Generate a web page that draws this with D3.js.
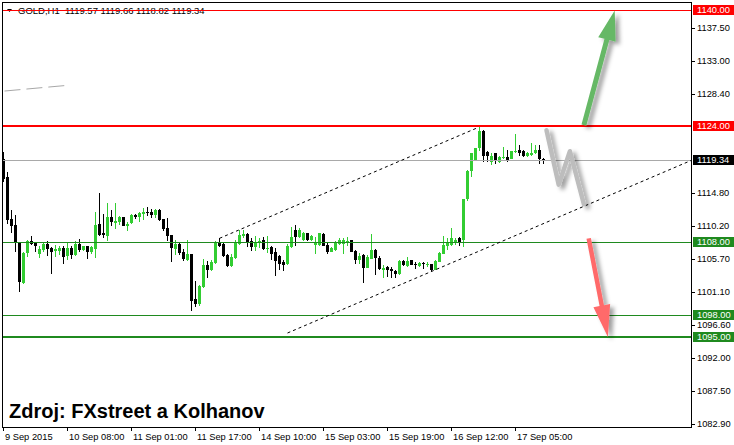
<!DOCTYPE html>
<html><head><meta charset="utf-8">
<script src="https://cdn.jsdelivr.net/npm/d3@7"></script>
<style>
html,body{margin:0;padding:0;background:#fff;}
svg{display:block;font-family:"Liberation Sans",Arial,sans-serif;}
</style></head><body>
<svg id="chart" width="734" height="445"></svg>
<script>
// ---------------- DATA ----------------
const symbol = "GOLD,H1";
const opens = [1119.6,1117.1,1111.2,1110.4,1108.0,1102.5,1106.6,1108.3,1108.0,1106.5,
1107.0,1107.8,1107.2,1106.8,1106.8,1107.3,1106.1,1107.3,1106.3,1107.8,
1107.0,1107.5,1106.7,1107.1,1110.6,1109.3,1108.9,1111.5,1110.7,1110.8,
1111.5,1110.3,1110.7,1111.8,1111.5,1112.0,1112.2,1112.2,1111.8,1112.5,
1111.2,1110.0,1109.0,1107.1,1107.8,1106.7,1105.6,1106.4,1100.2,1099.5,
1101.9,1104.9,1104.2,1105.2,1108.0,1107.8,1106.3,1104.8,1105.9,1107.8,
1108.9,1109.2,1108.3,1107.4,1107.9,1108.4,1107.1,1107.4,1106.7,1106.1,
1105.4,1105.0,1107.4,1109.7,1108.8,1108.4,1109.3,1108.4,1107.7,1107.7,
1109.2,1107.7,1106.7,1107.0,1107.8,1107.8,1107.9,1108.4,1106.9,1105.6,
1106.3,1104.5,1105.8,1107.0,1105.9,1104.2,1104.7,1104.4,1104.1,1103.7,
1105.5,1104.8,1105.6,1105.1,1104.8,1105.2,1104.9,1105.0,1104.3,1105.4,
1106.5,1107.5,1107.7,1107.9,1108.7,1108.4,1114.0,1117.9,1119.4,1121.0,
1123.4,1120.5,1119.1,1120.3,1119.1,1119.7,1119.8,1119.6,1120.5,1120.8,
1120.7,1120.0,1120.1,1120.3,1120.8,1119.57];
const highs = [1120.5,1117.7,1112.5,1111.8,1108.1,1106.7,1108.4,1108.9,1108.1,1107.5,
1108.0,1108.3,1107.4,1107.7,1107.5,1107.5,1108.0,1107.5,1108.3,1108.5,
1107.6,1107.6,1107.5,1112.2,1114.9,1111.9,1113.5,1112.5,1113.4,1111.7,
1111.6,1110.8,1111.9,1112.0,1112.2,1112.8,1112.9,1112.6,1112.7,1112.6,
1111.3,1111.4,1109.0,1108.4,1108.1,1107.1,1108.4,1106.5,1102.7,1102.1,
1105.7,1105.5,1105.6,1108.2,1108.6,1107.9,1106.5,1106.5,1108.4,1109.7,
1109.7,1109.4,1108.6,1108.9,1108.7,1108.8,1108.9,1107.5,1107.2,1106.3,
1105.6,1107.8,1110.1,1110.4,1110.0,1109.5,1109.4,1109.0,1108.8,1109.4,
1109.4,1108.1,1107.4,1108.2,1108.6,1108.6,1108.8,1108.4,1107.0,1106.6,
1106.4,1106.3,1109.2,1107.1,1106.1,1104.9,1104.8,1104.7,1104.3,1105.6,
1105.6,1106.0,1105.6,1105.4,1105.3,1105.4,1105.4,1105.1,1105.6,1106.7,
1108.9,1108.6,1110.0,1108.6,1108.8,1114.0,1118.0,1120.3,1121.1,1124.0,
1123.5,1120.6,1120.3,1120.4,1119.9,1121.2,1120.8,1120.6,1123.0,1121.4,
1120.8,1120.5,1121.7,1121.4,1121.4,1119.66];
const lows = [1116.4,1110.6,1109.3,1106.7,1101.2,1102.3,1106.0,1107.7,1106.7,1105.9,
1106.7,1106.1,1103.7,1106.0,1106.3,1105.0,1105.6,1105.8,1106.1,1106.7,
1106.9,1105.8,1106.5,1105.9,1108.9,1108.7,1108.3,1110.3,1109.9,1110.4,
1110.3,1109.6,1110.6,1111.2,1110.8,1111.1,1111.7,1111.4,1111.4,1111.0,
1109.6,1108.3,1105.4,1106.3,1106.3,1105.5,1105.5,1098.6,1099.1,1099.3,
1101.8,1103.1,1104.1,1105.1,1107.4,1106.0,1104.7,1104.6,1105.8,1107.7,
1108.7,1107.4,1106.9,1106.9,1107.3,1107.0,1106.6,1105.6,1103.4,1104.2,
1104.1,1104.9,1107.2,1107.6,1108.6,1108.3,1108.3,1108.3,1106.5,1107.5,
1107.5,1106.4,1106.7,1106.8,1107.7,1106.5,1107.5,1106.7,1105.0,1105.0,
1102.5,1104.5,1105.8,1103.5,1104.2,1103.1,1103.3,1103.1,1103.2,1103.5,
1104.8,1104.7,1104.9,1104.4,1104.7,1104.4,1104.7,1104.1,1104.3,1105.3,
1106.4,1107.0,1107.5,1107.7,1107.5,1107.4,1113.8,1117.1,1119.3,1120.7,
1119.1,1119.1,1118.7,1118.9,1119.0,1119.5,1119.1,1119.5,1120.3,1120.0,
1119.8,1119.8,1120.0,1120.2,1118.8,1118.82];
const closes = [1116.8,1111.1,1110.3,1108.1,1102.6,1106.6,1108.3,1107.8,1107.5,1107.1,
1107.8,1107.1,1106.7,1107.1,1107.3,1106.0,1107.3,1106.3,1107.8,1107.0,
1107.5,1106.7,1107.4,1110.5,1109.1,1109.0,1111.5,1110.8,1111.0,1111.5,
1110.3,1110.6,1111.8,1111.5,1112.1,1112.2,1112.1,1111.8,1112.5,1111.1,
1109.9,1108.9,1107.2,1107.8,1106.6,1105.7,1106.4,1100.0,1099.6,1102.0,
1104.9,1104.2,1105.4,1108.1,1107.5,1106.1,1104.8,1106.0,1108.1,1109.0,
1109.2,1108.1,1107.4,1108.1,1108.3,1107.1,1107.3,1106.5,1105.5,1105.0,
1104.9,1107.6,1108.8,1108.8,1109.8,1109.3,1108.4,1108.9,1108.1,1109.3,
1107.6,1106.7,1107.2,1108.1,1108.4,1108.4,1108.3,1106.7,1105.6,1106.1,
1104.5,1106.0,1107.0,1105.9,1104.4,1104.5,1104.2,1104.1,1103.7,1105.5,
1104.9,1105.5,1104.9,1105.0,1105.2,1105.0,1105.1,1104.2,1105.5,1106.6,
1107.7,1107.9,1108.6,1108.4,1108.1,1114.0,1117.9,1120.3,1121.0,1123.4,
1120.0,1120.0,1119.9,1119.4,1119.8,1119.8,1119.4,1120.6,1120.7,1120.3,
1119.9,1120.3,1120.4,1120.8,1119.6,1119.34];

const timeTickIdx = [0,16,32,48,64,80,96,112,128];
const timeTickLabels = ["9 Sep 2015","10 Sep 08:00","11 Sep 01:00","11 Sep 17:00","14 Sep 10:00","15 Sep 03:00","15 Sep 19:00","16 Sep 12:00","17 Sep 05:00"];
const priceTicks = [1137.50,1133.00,1128.40,1114.80,1110.20,1105.70,1101.10,1096.60,1092.00,1087.50,1082.90];
const redLevels = [1140, 1124];
const redLevelWidths = [1, 2];
const greenLevels = [1108, 1098, 1095];
const greenLevelWidths = [1, 1, 2];
const bidPrice = 1119.34;
// trend objects as [barIndex, price]
const channelUpper = [[54, 1108.6], [118.75, 1123.9]];
const channelLower = [[71, 1095.55], [172.2, 1119.4]];
const oldTrend = [[0.25, 1128.9], [16.3, 1129.7]];
const upArrow = [[145.1, 1124.2], [152.8, 1140.0]];
const downArrow = [[146.3, 1108.6], [151.1, 1095.0]];
const zigzag = [[135.75, 1123.5], [138.8, 1116.0], [141.6, 1120.6], [145.1, 1113.3]];
const sourceText = "Zdroj: FXstreet a Kolhanov";

// ---------------- DRAW ----------------
const svg = d3.select("#chart");
const x = d3.scaleLinear().domain([0, 135]).range([3.5, 543.5]);
const y = d3.scaleLinear().domain([1095, 1140]).range([337, 10.5]);
const s1 = v => Math.floor(v) + 0.5;
const GREEN = "#1f8a1f", RED = "#ff0000", BULL = "#32cd32";

const defs = svg.append("defs");
defs.append("clipPath").attr("id","plotclip").append("rect")
  .attr("x",3).attr("y",3).attr("width",688).attr("height",424);
const f = defs.append("filter").attr("id","sh").attr("x","-50%").attr("y","-50%").attr("width","200%").attr("height","200%");
f.append("feGaussianBlur").attr("in","SourceAlpha").attr("stdDeviation",2.2).attr("result","bl");
f.append("feOffset").attr("in","bl").attr("dx",4).attr("dy",3).attr("result","of");
f.append("feFlood").attr("flood-color","#000").attr("flood-opacity",0.38).attr("result","fl");
f.append("feComposite").attr("in","fl").attr("in2","of").attr("operator","in").attr("result","shd");
const fm = f.append("feMerge");
fm.append("feMergeNode").attr("in","shd");
fm.append("feMergeNode").attr("in","SourceGraphic");

svg.append("rect").attr("width",734).attr("height",445).attr("fill","#fff");

const plot = svg.append("g").attr("clip-path","url(#plotclip)");

// title (under level lines)
const last = opens.length - 1;
plot.append("path").attr("d","M7,9 L12,9 L9.5,12 Z").attr("fill","#000");
plot.append("text").attr("x",18).attr("y",14).attr("font-size","9.5px").attr("fill","#000")
  .attr("xml:space","preserve")
  .text(`${symbol}  ${opens[last].toFixed(2)} ${highs[last].toFixed(2)} ${lows[last].toFixed(2)} ${closes[last].toFixed(2)}`);

// candles
const bars = d3.range(opens.length);
const cg = plot.append("g").attr("shape-rendering","crispEdges");
bars.forEach(i => {
  const o = opens[i], c = closes[i], h = highs[i], l = lows[i];
  const col = c > o ? BULL : "#000";
  const cx = Math.floor(x(i));
  const yh = Math.round(y(h)), yl = Math.round(y(l));
  cg.append("rect").attr("x",cx).attr("y",yh).attr("width",1).attr("height",Math.max(1,yl-yh)).attr("fill",col);
  const yt = Math.round(y(Math.max(o,c))), yb = Math.round(y(Math.min(o,c)));
  cg.append("rect").attr("x",cx-1).attr("y",yt).attr("width",3).attr("height",Math.max(1,yb-yt)).attr("fill",col);
});

// old grey dashed trend
plot.append("line")
  .attr("x1",x(oldTrend[0][0])).attr("y1",y(oldTrend[0][1]))
  .attr("x2",x(oldTrend[1][0])).attr("y2",y(oldTrend[1][1]))
  .attr("stroke","#a8a8a8").attr("stroke-width",1).attr("stroke-dasharray","16,6");

// levels
const lg = plot.append("g").attr("shape-rendering","crispEdges");
lg.append("line").attr("x1",3).attr("x2",691).attr("y1",s1(y(bidPrice))).attr("y2",s1(y(bidPrice)))
  .attr("stroke","#a9a9a9").attr("stroke-width",1);
redLevels.forEach((p,k) => {
  const w = redLevelWidths[k];
  const yy = w === 1 ? s1(y(p)) : Math.floor(y(p));
  lg.append("line").attr("x1",3).attr("x2",691).attr("y1",yy).attr("y2",yy).attr("stroke",RED).attr("stroke-width",w);
});
greenLevels.forEach((p,k) => {
  const w = greenLevelWidths[k];
  const yy = w === 1 ? s1(y(p)) : Math.round(y(p));
  lg.append("line").attr("x1",3).attr("x2",691).attr("y1",yy).attr("y2",yy).attr("stroke",GREEN).attr("stroke-width",w);
});

// channel lines
[channelUpper, channelLower].forEach(ch => {
  plot.append("line")
    .attr("x1",x(ch[0][0])).attr("y1",y(ch[0][1]))
    .attr("x2",x(ch[1][0])).attr("y2",y(ch[1][1]))
    .attr("stroke","#000").attr("stroke-width",1).attr("stroke-dasharray","3,3");
});

// arrows
function arrowPath(a, b, w, L, Wd) {
  const x1 = x(a[0]), y1 = y(a[1]), x2 = x(b[0]), y2 = y(b[1]);
  const dx = x2-x1, dy = y2-y1, len = Math.hypot(dx,dy);
  const ux = dx/len, uy = dy/len, nx = -uy, ny = ux;
  const bx = x2 - ux*L, by = y2 - uy*L;
  const pts = [
    [x1+nx*w/2, y1+ny*w/2],[bx+nx*w/2, by+ny*w/2],[bx+nx*Wd/2, by+ny*Wd/2],[x2,y2],
    [bx-nx*Wd/2, by-ny*Wd/2],[bx-nx*w/2, by-ny*w/2],[x1-nx*w/2, y1-ny*w/2]];
  return "M" + pts.map(p => p[0].toFixed(2)+","+p[1].toFixed(2)).join("L") + "Z";
}
plot.append("path").attr("d",arrowPath(upArrow[0],upArrow[1],5,30,18))
  .attr("fill","#66b866").attr("filter","url(#sh)");
plot.append("path").attr("d",arrowPath(downArrow[0],downArrow[1],4.5,32,17))
  .attr("fill","#ff6a6a").attr("filter","url(#sh)");
plot.append("path")
  .attr("d", d3.line().x(d => x(d[0])).y(d => y(d[1]))(zigzag))
  .attr("fill","none").attr("stroke","#bdbdbd").attr("stroke-width",4.5)
  .attr("stroke-linejoin","round").attr("stroke-linecap","round").attr("filter","url(#sh)");

// frame
svg.append("rect").attr("x",2.5).attr("y",2.5).attr("width",689).attr("height",425)
  .attr("fill","none").attr("stroke","#000").attr("stroke-width",1).attr("shape-rendering","crispEdges");

// right axis ticks and labels
const ag = svg.append("g");
priceTicks.forEach(p => {
  const yy = s1(y(p));
  ag.append("line").attr("x1",692).attr("x2",695).attr("y1",yy).attr("y2",yy)
    .attr("stroke","#000").attr("shape-rendering","crispEdges");
  ag.append("text").attr("x",697).attr("y",yy+2.9).attr("font-size","9.3px").attr("fill","#000").text(p.toFixed(2));
});
function boxLabel(p, bg) {
  const yy = s1(y(p));
  ag.append("rect").attr("x",693).attr("y",Math.floor(yy-5.5)).attr("width",41).attr("height",10)
    .attr("fill",bg).attr("shape-rendering","crispEdges");
  ag.append("text").attr("x",697).attr("y",yy+2.9).attr("font-size","9.3px").attr("fill","#fff").text(p.toFixed(2));
}
redLevels.forEach(p => boxLabel(p, RED));
greenLevels.forEach(p => boxLabel(p, GREEN));
boxLabel(bidPrice, "#000");

// bottom axis ticks and labels
timeTickIdx.forEach((idx,k) => {
  const xx = Math.floor(x(idx)) + 0.5;
  ag.append("line").attr("x1",xx).attr("x2",xx).attr("y1",428).attr("y2",431)
    .attr("stroke","#000").attr("shape-rendering","crispEdges");
  ag.append("text").attr("x",xx+1.5).attr("y",440).attr("font-size","9.3px").attr("fill","#000").text(timeTickLabels[k]);
});

// source text
svg.append("text").attr("x",9).attr("y",417.5).attr("font-size","20px").attr("font-weight","bold")
  .attr("fill","#000").text(sourceText);
</script>
</body></html>
